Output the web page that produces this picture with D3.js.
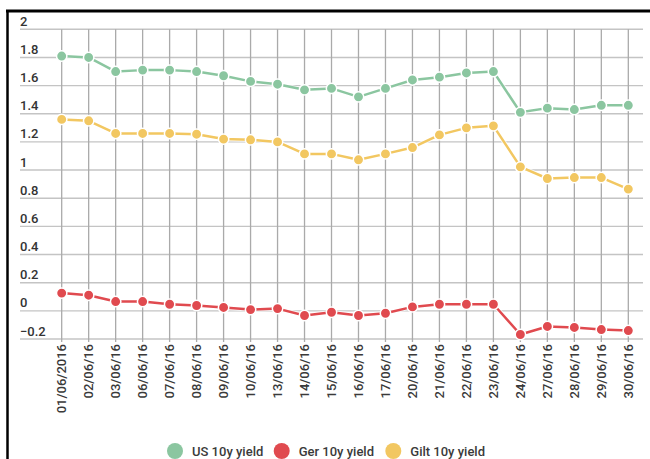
<!DOCTYPE html>
<html>
<head>
<meta charset="utf-8">
<script src="https://cdn.jsdelivr.net/npm/d3@7"></script>
<style>
  html, body { margin: 0; padding: 0; background: #fff; }
  svg { display: block; font-family: Roboto, "Noto Sans", sans-serif; }
</style>
</head>
<body>
<svg id="chart" width="650" height="459"></svg>
<script>
// Trading days, June 2016
const dates = ["01/06/2016","02/06/16","03/06/16","06/06/16","07/06/16","08/06/16","09/06/16",
  "10/06/16","13/06/16","14/06/16","15/06/16","16/06/16","17/06/16","20/06/16","21/06/16",
  "22/06/16","23/06/16","24/06/16","27/06/16","28/06/16","29/06/16","30/06/16"];

// 10-year government bond yields (%)
const usYield   = [1.81,1.80,1.70,1.71,1.71,1.70,1.67,1.63,1.61,1.57,1.58,1.52,1.58,1.64,1.66,1.69,1.70,1.41,1.44,1.43,1.46,1.46];
const gerYield  = [0.126,0.111,0.066,0.066,0.047,0.038,0.024,0.009,0.016,-0.033,-0.010,-0.033,-0.017,0.028,0.047,0.047,0.047,-0.168,-0.111,-0.118,-0.133,-0.140];
const giltYield = [1.36,1.35,1.26,1.26,1.26,1.255,1.22,1.215,1.20,1.115,1.115,1.073,1.115,1.16,1.25,1.30,1.314,1.023,0.94,0.947,0.947,0.865];

const yTicks = [-0.2,0,0.2,0.4,0.6,0.8,1,1.2,1.4,1.6,1.8,2];

const seriesNames = ["US 10y yield","Ger 10y yield","Gilt 10y yield"];
const seriesColors = ["#8bc6a0","#e04a4f","#f2c761"];
const seriesValues = [usYield, gerYield, giltYield];

const svg = d3.select("#chart");

// Frame lines on the top and left
svg.append("line").attr("x1", 6).attr("x2", 650).attr("y1", 11).attr("y2", 11)
  .attr("stroke", "#000").attr("stroke-width", 3);
svg.append("line").attr("x1", 7.5).attr("x2", 7.5).attr("y1", 10).attr("y2", 459)
  .attr("stroke", "#000").attr("stroke-width", 2.5);

const x = d3.scaleBand().domain(dates).range([48.2, 641.8]);
const y = d3.scaleLinear().domain([-0.2, 2]).range([339, 29.3]);
const cx = d => x(d) + x.bandwidth() / 2;

// Horizontal gridlines with labels sitting above each line
const gridLeft = 20, gridRight = 643;
const yg = svg.append("g");
yg.selectAll("line").data(yTicks).join("line")
  .attr("x1", gridLeft).attr("x2", gridRight)
  .attr("y1", d => y(d)).attr("y2", d => y(d))
  .attr("stroke", "#c4c4c4").attr("stroke-width", 1.4);
yg.selectAll("text").data(yTicks).join("text")
  .attr("x", gridLeft).attr("y", d => y(d) - 3.5)
  .attr("font-size", 13).attr("font-weight", 500).attr("fill", "#333")
  .text(d => d3.format("~g")(d));

// Vertical gridlines at each date
const xg = svg.append("g");
xg.selectAll("line").data(dates).join("line")
  .attr("x1", cx).attr("x2", cx)
  .attr("y1", y(2)).attr("y2", y(-0.2) + 3)
  .attr("stroke", "#aaa").attr("stroke-width", 1.3);
xg.selectAll("text").data(dates).join("text")
  .attr("transform", d => `translate(${cx(d) + 4.5},${y(-0.2) + 5}) rotate(-90)`)
  .attr("text-anchor", "end")
  .attr("font-size", 13).attr("font-weight", 500).attr("fill", "#3a3a3a")
  .text(d => d);

// Series lines and markers
const line = d3.line().x((d, i) => cx(dates[i])).y(d => y(d));
seriesValues.forEach((vals, si) => {
  const g = svg.append("g");
  g.append("path").datum(vals)
    .attr("d", line).attr("fill", "none")
    .attr("stroke", "#fff").attr("stroke-opacity", 0.7).attr("stroke-width", 4.5)
    .attr("stroke-linejoin", "round");
  g.append("path").datum(vals)
    .attr("d", line).attr("fill", "none")
    .attr("stroke", seriesColors[si]).attr("stroke-width", 2.5)
    .attr("stroke-linejoin", "round");
  g.selectAll("circle").data(vals).join("circle")
    .attr("cx", (d, i) => cx(dates[i])).attr("cy", d => y(d))
    .attr("r", 5.2).attr("fill", seriesColors[si])
    .attr("stroke", "#fff").attr("stroke-width", 1.5);
});

// Legend
const legendItems = [
  { name: seriesNames[0], color: seriesColors[0], x: 175 },
  { name: seriesNames[1], color: seriesColors[1], x: 281.7 },
  { name: seriesNames[2], color: seriesColors[2], x: 393.3 }
];
const lg = svg.append("g");
legendItems.forEach(it => {
  lg.append("circle").attr("cx", it.x).attr("cy", 451).attr("r", 8).attr("fill", it.color);
  lg.append("text").attr("x", it.x + 17).attr("y", 455.5)
    .attr("font-size", 13).attr("font-weight", 500).attr("fill", "#3a3a3a")
    .text(it.name);
});
</script>
</body>
</html>
